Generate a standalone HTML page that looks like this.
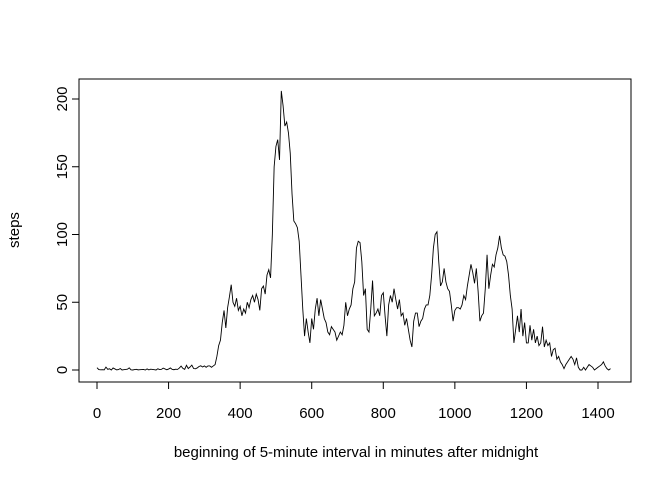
<!DOCTYPE html>
<html><head><meta charset="utf-8"><style>
html,body{margin:0;padding:0;background:#fff;}
svg{display:block;font-family:"Liberation Sans",Arial,sans-serif;}
</style></head><body>
<svg id="chart" width="672" height="480">
<rect x="79" y="79" width="552" height="303" fill="none" stroke="#000" stroke-width="1"/>
<g id="xaxis"></g>
<g id="yaxis"></g>
<text x="356" y="457" font-size="15" text-anchor="middle">beginning of 5-minute interval in minutes after midnight</text>
<text x="19" y="230" font-size="15" text-anchor="middle" transform="rotate(-90 19 230)">steps</text>
<path id="series" fill="none" stroke="#000" stroke-width="0.9"/>
</svg>
<script>
const xTicks=[0,200,400,600,800,1000,1200,1400];
const yTicks=[0,50,100,150,200];
const steps=[
1.7,0.3,0.1,0.2,0.1,2.1,0.5,0.9,0,1.5,0.8,0.1,
0.3,1.1,0,0.2,0.4,0.6,1.6,0.1,0,0.3,0.5,0.1,
0.2,0.3,0.4,0,0.8,0.1,0.6,0.4,0.2,0,0.9,0.3,
0.5,1.4,0.8,0.2,0.7,1.5,0.5,0.2,0.6,0.4,1.4,2.9,
1.2,0.5,3.5,1.1,2.2,3.6,1.1,0.9,1.5,2.6,3.1,2.2,
3,2,3,3,2,3,4,10,18,22,35,44,
31,46,54,63,50,47,53,44,47,40,45,42,
50,46,52,55,50,56,52,44,60,62,56,70,
74,68,100,150,165,170,155,206,195,180,183,175,
160,130,110,108,105,95,70,45,25,38,28,20,
38,30,45,53,40,52,45,38,35,28,26,32,
30,28,22,25,28,26,33,50,40,45,48,60,
65,90,95,94,80,55,60,30,28,45,66,40,
42,45,40,55,57,40,25,48,55,50,60,52,
45,52,40,42,33,38,30,22,17,36,42,42,
32,36,38,45,48,48,55,70,90,100,102,80,
62,65,75,65,60,58,48,36,44,46,46,45,
48,55,52,62,70,78,72,64,75,58,36,40,
42,60,85,60,70,78,76,85,90,99,90,85,
84,80,70,55,45,20,30,40,28,45,25,35,
20,20,33,22,30,20,25,18,20,32,17,22,
18,20,10,15,16,8,10,6,4,1,4,6,
8,10,8,4,9,2,0,0,2,0,2,4,
3,2,0,1,2,3,4,6,3,1,0,1];
const intervals=steps.map((v,i)=>i*5);
const X=m=>97+m*(501/1400);
const Y=v=>370-v*(271/200);
const NS="http://www.w3.org/2000/svg";
const xa=document.getElementById('xaxis'), ya=document.getElementById('yaxis');
function mk(tag,attrs,parent){const e=document.createElementNS(NS,tag);for(const k in attrs)e.setAttribute(k,attrs[k]);parent.appendChild(e);return e;}
mk('line',{x1:X(xTicks[0]),x2:X(xTicks[xTicks.length-1]),y1:382,y2:382,stroke:'#000'},xa);
xTicks.forEach(t=>{
 const l=mk('line',{x1:X(t),x2:X(t),y1:382,y2:389,stroke:'#000'},xa);
 
 
 const tx=mk('text',{x:X(t),y:418,'font-size':15,'text-anchor':'middle'},xa);
 tx.textContent=t;
 
 
});
mk('line',{x1:79,x2:79,y1:Y(yTicks[0]),y2:Y(yTicks[yTicks.length-1]),stroke:'#000'},ya);
yTicks.forEach(t=>{
 const l=mk('line',{x1:72,x2:79,y1:Y(t),y2:Y(t),stroke:'#000'},ya);
 
 
 const tx=mk('text',{x:67,y:Y(t),'font-size':15,'text-anchor':'middle',transform:`rotate(-90 67 ${Y(t)})`},ya);
 tx.textContent=t;
 
 
});
document.getElementById('series').setAttribute('d',steps.map((v,i)=>(i?'L':'M')+X(intervals[i]).toFixed(2)+' '+Y(v).toFixed(2)).join(' '));
</script>
</body></html>
